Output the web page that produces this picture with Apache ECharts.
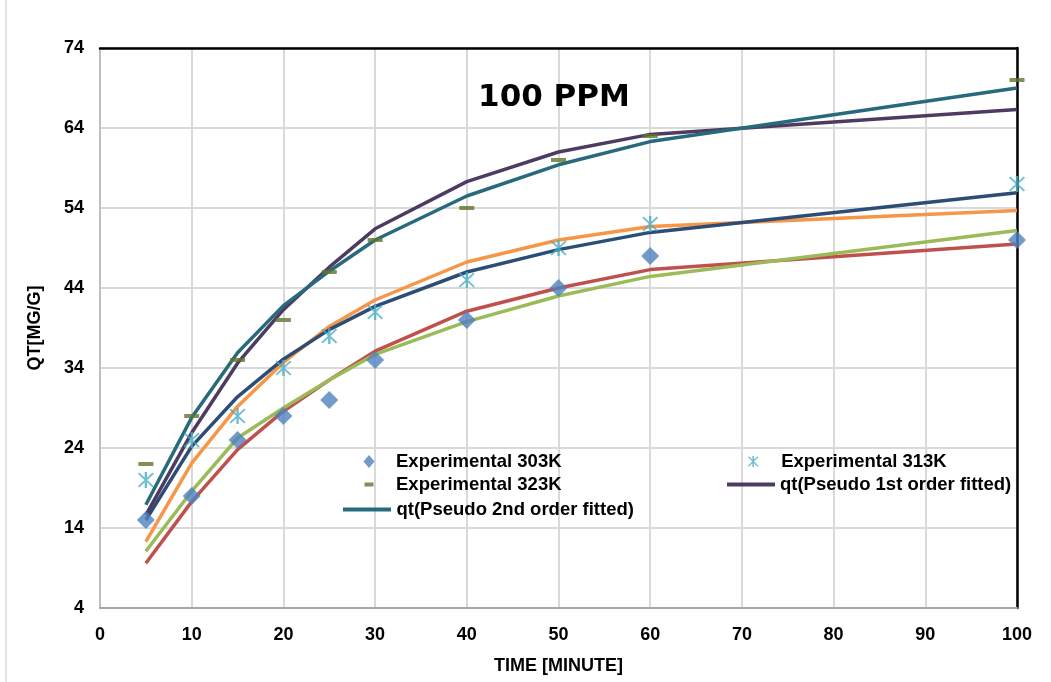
<!DOCTYPE html>
<html>
<head>
<meta charset="utf-8">
<script src="https://cdn.jsdelivr.net/npm/echarts@6/dist/echarts.min.js"></script>
<style>
html,body{margin:0;padding:0;background:#fff;}
#chart{width:1051px;height:682px;}
</style>
</head>
<body>
<div id="chart"></div>
<script>
// ---- data ----
var times = [5, 10, 15, 20, 25, 30, 40, 50, 60, 100];
var exp303 = [15, 18, 25, 28, 30, 35, 40, 44, 48, 50];
var exp313 = [20, 25, 28, 34, 38, 41, 45, 49, 52, 57];
var exp323 = [22, 28, 35, 40, 46, 50, 54, 60, 63, 70];
var pfo303 = [9.6, 17.3, 23.8, 28.6, 32.5, 36.1, 41.1, 44.0, 46.3, 49.5];
var pso303 = [11.1, 18.6, 25.25, 29.0, 32.5, 35.7, 39.8, 43.0, 45.45, 51.2];
var pfo313 = [12.3, 22.1, 29.2, 34.7, 39.2, 42.5, 47.25, 50.0, 51.7, 53.7];
var pso313 = [15.0, 24.2, 30.4, 35.1, 38.8, 41.7, 46.0, 48.8, 50.95, 55.9];
var pfo323 = [15.6, 25.9, 34.6, 41.3, 46.6, 51.4, 57.3, 61.0, 63.2, 66.3];
var pso323 = [16.9, 27.8, 35.9, 41.8, 46.1, 50.0, 55.5, 59.4, 62.3, 69.0];
var xTicks = { min: 0, max: 100, interval: 10 };
var yTicks = { min: 4, max: 74, interval: 10 };
var titleText = '100 PPM';
var xName = 'TIME [MINUTE]';
var yName = 'QT[MG/G]';
var names = {
  e303: 'Experimental 303K',
  e313: 'Experimental 313K',
  e323: 'Experimental 323K',
  p1: 'qt(Pseudo 1st order fitted)',
  p2: 'qt(Pseudo 2nd order fitted)'
};

function pairs(xs, ys) { return xs.map(function (x, i) { return [x, ys[i]]; }); }

var FONT = "'Liberation Sans', Arial, sans-serif";
var asterisk = 'path://M43 0L57 0L57 100L43 100Z M10.95 3.05L96.95 89.05L89.05 96.95L3.05 10.95Z M89.05 3.05L96.95 10.95L10.95 96.95L3.05 89.05Z';
var dash = 'path://M0 0H14V4H0Z';
var dashLegend = 'path://M0 0H9V4H0Z';
var diamondLegend = 'path://M5.5 0L11 6.5L5.5 13L0 6.5Z';
var lineLegend = 'path://M0 0H48V4H0Z';

var chart = echarts.init(document.getElementById('chart'), null, { renderer: 'canvas' });

function lineSeries(name, data, color, z) {
  return {
    name: name, type: 'line', data: pairs(times, data),
    symbol: 'none', showSymbol: false, smooth: false,
    lineStyle: { color: color, width: 3.5 }, itemStyle: { color: color },
    z: z, animation: false
  };
}

var legendBase = {
  orient: 'horizontal', padding: 0, itemGap: 0,
  textStyle: { fontFamily: FONT, fontWeight: 'bold', fontSize: 18.5, color: '#000' },
  selectedMode: false
};
function legend(extra) { return Object.assign({}, legendBase, extra); }

var option = {
  animation: false,
  backgroundColor: '#fff',
  title: {
    text: titleText, left: 549, top: 77, textAlign: 'center',
    textStyle: { fontFamily: "'DejaVu Sans', sans-serif", fontWeight: 'bold', fontSize: 31, color: '#000' }
  },
  grid: { left: 100, right: 34, top: 48, bottom: 74, containLabel: false },
  xAxis: [{
    type: 'value', min: xTicks.min, max: xTicks.max, interval: xTicks.interval,
    name: xName, nameLocation: 'middle', nameGap: 49,
    nameTextStyle: { fontFamily: FONT, fontWeight: 'bold', fontSize: 18, color: '#000' },
    axisLine: { show: true, onZero: false, lineStyle: { color: '#A6A6A6', width: 2 } },
    axisTick: { show: false },
    axisLabel: { margin: 18, fontFamily: FONT, fontWeight: 'bold', fontSize: 18, color: '#000' },
    splitLine: { show: true, lineStyle: { color: '#D9D9D9', width: 2 } }
  }, {
    type: 'value', position: 'top', min: xTicks.min, max: xTicks.max,
    axisLine: { show: true, onZero: false, lineStyle: { color: '#000', width: 2.5 } },
    axisTick: { show: false }, axisLabel: { show: false }, splitLine: { show: false }
  }],
  yAxis: [{
    type: 'value', min: yTicks.min, max: yTicks.max, interval: yTicks.interval,
    name: yName, nameLocation: 'middle', nameGap: 56, nameRotate: 90,
    nameTextStyle: { fontFamily: FONT, fontWeight: 'bold', fontSize: 18, color: '#000' },
    axisLine: { show: true, onZero: false, lineStyle: { color: '#BFBFBF', width: 2 } },
    axisTick: { show: false },
    axisLabel: { margin: 16, fontFamily: FONT, fontWeight: 'bold', fontSize: 18, color: '#000' },
    splitLine: { show: true, lineStyle: { color: '#D9D9D9', width: 2 } }
  }, {
    type: 'value', position: 'right', min: yTicks.min, max: yTicks.max,
    axisLine: { show: true, onZero: false, lineStyle: { color: '#000', width: 2.5 } },
    axisTick: { show: false }, axisLabel: { show: false }, splitLine: { show: false }
  }],
  legend: [
    legend({ left: 363.5, top: 452, itemWidth: 44, itemHeight: 13,
      data: [{ name: names.e303, icon: diamondLegend }] }),
    legend({ left: 748, top: 452, itemWidth: 46, itemHeight: 11,
      data: [{ name: names.e313, icon: asterisk }] }),
    legend({ left: 364.5, top: 475, itemWidth: 44, itemHeight: 4,
      data: [{ name: names.e323, icon: dashLegend }] }),
    legend({ left: 727, top: 475, itemWidth: 48, itemHeight: 4,
      data: [{ name: names.p1, icon: lineLegend }] }),
    legend({ left: 343, top: 500, itemWidth: 49, itemHeight: 4,
      data: [{ name: names.p2, icon: lineLegend }] })
  ],
  graphic: [{
    type: 'line', shape: { x1: 6, y1: 0, x2: 6, y2: 682 },
    style: { stroke: '#D9D9D9', lineWidth: 1.5 }, silent: true
  }],
  series: [
    lineSeries('pfo303', pfo303, '#C0504D', 2),
    lineSeries('pso303', pso303, '#9BBB59', 2),
    lineSeries('pfo313', pfo313, '#F79646', 2),
    lineSeries('pso313', pso313, '#2C4D75', 2),
    lineSeries(names.p1, pfo323, '#4D3B62', 2),
    lineSeries(names.p2, pso323, '#276A7C', 2),
    {
      name: names.e303, type: 'scatter', data: pairs(times, exp303),
      symbol: 'diamond', symbolSize: 18, itemStyle: { color: '#4F81BD' }, z: 5
    },
    {
      name: names.e313, type: 'scatter', data: pairs(times, exp313),
      symbol: asterisk, symbolSize: 16, itemStyle: { color: '#4BACC6' }, z: 5
    },
    {
      name: names.e323, type: 'scatter', data: pairs(times, exp323),
      symbol: dash, symbolSize: [15, 4], itemStyle: { color: '#5F7530' }, z: 5
    }
  ]
};
chart.setOption(option);
</script>
</body>
</html>
